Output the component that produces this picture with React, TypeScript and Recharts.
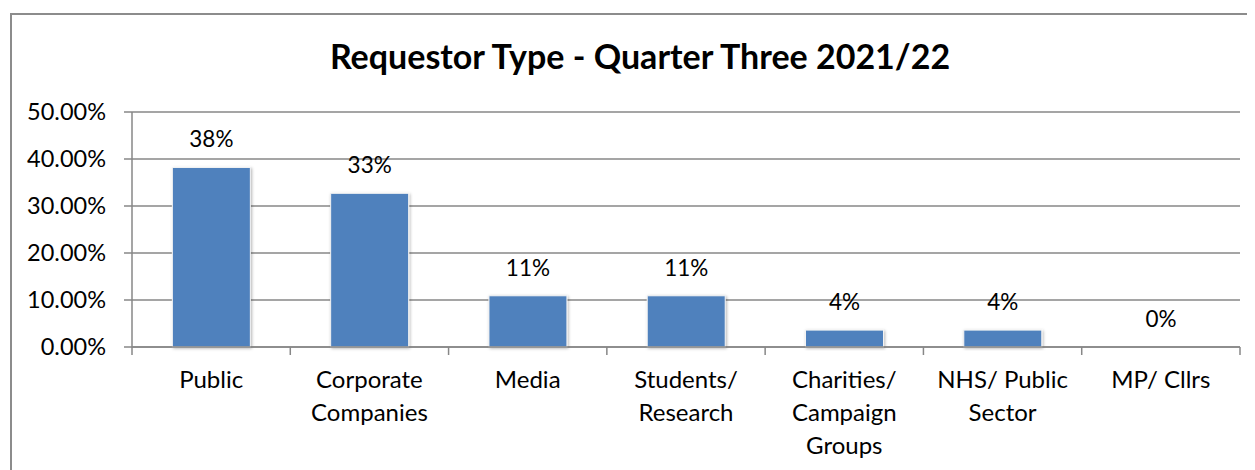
import React from "react";
import { BarChart, Bar, XAxis, YAxis, CartesianGrid, LabelList } from "recharts";

const title = "Requestor Type - Quarter Three 2021/22";
const categories = [
  "Public",
  "Corporate\nCompanies",
  "Media",
  "Students/\nResearch",
  "Charities/\nCampaign\nGroups",
  "NHS/ Public\nSector",
  "MP/ Cllrs",
];
const shares = [0.382, 0.327, 0.109, 0.109, 0.036, 0.036, 0];
const valueLabels = ["38%", "33%", "11%", "11%", "4%", "4%", "0%"];
const yTicks = [0, 0.1, 0.2, 0.3, 0.4, 0.5];

const data = categories.map((c, i) => ({ category: c, share: shares[i], label: valueLabels[i] }));

const W = 1247;
const H = 462;
const MARGIN = { top: 104, right: 15, left: 0, bottom: 0 };
const Y_AXIS_W = 124;
const X_AXIS_H = 123;
const PLOT_W = W - MARGIN.left - MARGIN.right - Y_AXIS_W;
const FONT = "Lato, 'Open Sans', sans-serif";
const GRID = "#878787";

const XTick = (props: any) => {
  const { x, y, payload, index } = props;
  const bw = PLOT_W / categories.length;
  const lines = String(payload.value).split("\n");
  return (
    <g>
      <line x1={x - bw / 2} x2={x - bw / 2} y1={y} y2={y + 8} stroke={GRID} strokeWidth={1.5} />
      {index === categories.length - 1 && (
        <line x1={x + bw / 2} x2={x + bw / 2} y1={y} y2={y + 8} stroke={GRID} strokeWidth={1.5} />
      )}
      <text x={x} y={y + 41} textAnchor="middle" fontSize={24} fontFamily={FONT} fill="#000">
        {lines.map((l, i) => (
          <tspan key={i} x={x} dy={i === 0 ? 0 : 33}>
            {l}
          </tspan>
        ))}
      </text>
    </g>
  );
};

const BarShape = (p: any) =>
  p.height > 0 ? (
    <rect
      x={p.x}
      y={p.y}
      width={p.width}
      height={p.height}
      fill="#4F81BD"
      stroke="#f4f4f4"
      strokeWidth={1}
      filter="url(#barShadow)"
    />
  ) : null;

const ValueLabel = (p: any) => (
  <text
    x={p.x + p.width / 2}
    y={p.y - 20}
    textAnchor="middle"
    fontSize={22.5}
    fontFamily={FONT}
    fill="#000"
  >
    {p.value}
  </text>
);

export default function App() {
  return (
    <div style={{ position: "relative", width: W, height: H, overflow: "hidden", fontFamily: FONT }}>
      <svg width={0} height={0} style={{ position: "absolute" }}>
        <defs>
          <filter id="barShadow" x="-20%" y="-20%" width="140%" height="140%">
            <feDropShadow dx="1" dy="1" stdDeviation="1.5" floodColor="#000" floodOpacity="0.3" />
          </filter>
        </defs>
      </svg>
      <div
        style={{
          position: "absolute",
          left: 2,
          top: 5,
          width: 1400,
          height: 700,
          border: "2px solid #8c8c8c",
          boxSizing: "border-box",
        }}
      />
      <div
        style={{
          position: "absolute",
          left: 0,
          top: 30.5,
          width: 1264,
          textAlign: "center",
          fontSize: 34,
          lineHeight: "34px",
          fontWeight: 700,
          color: "#000",
          whiteSpace: "nowrap",
        }}
      >
        {title}
      </div>
      <div style={{ position: "absolute", left: 0, top: 0 }}>
        <BarChart width={W} height={H} data={data} margin={MARGIN} barCategoryGap="25.5%">
          <CartesianGrid vertical={false} stroke={GRID} strokeWidth={1.5} />
          <XAxis
            dataKey="category"
            height={X_AXIS_H}
            interval={0}
            tickSize={0}
            tickMargin={0}
            tickLine={false}
            axisLine={{ stroke: GRID, strokeWidth: 1.5 }}
            tick={<XTick />}
          />
          <YAxis
            width={Y_AXIS_W}
            domain={[0, 0.5]}
            ticks={yTicks}
            interval={0}
            tickSize={8}
            tickMargin={18}
            tickLine={{ stroke: GRID, strokeWidth: 1.5 }}
            axisLine={{ stroke: GRID, strokeWidth: 1.5 }}
            tick={{ fontSize: 23.5, fontFamily: FONT, fill: "#000" }}
            tickFormatter={(v: number) => (v * 100).toFixed(2) + "%"}
          />
          <Bar dataKey="share" isAnimationActive={false} shape={<BarShape />}>
            <LabelList dataKey="label" content={<ValueLabel />} />
          </Bar>
        </BarChart>
      </div>
    </div>
  );
}
